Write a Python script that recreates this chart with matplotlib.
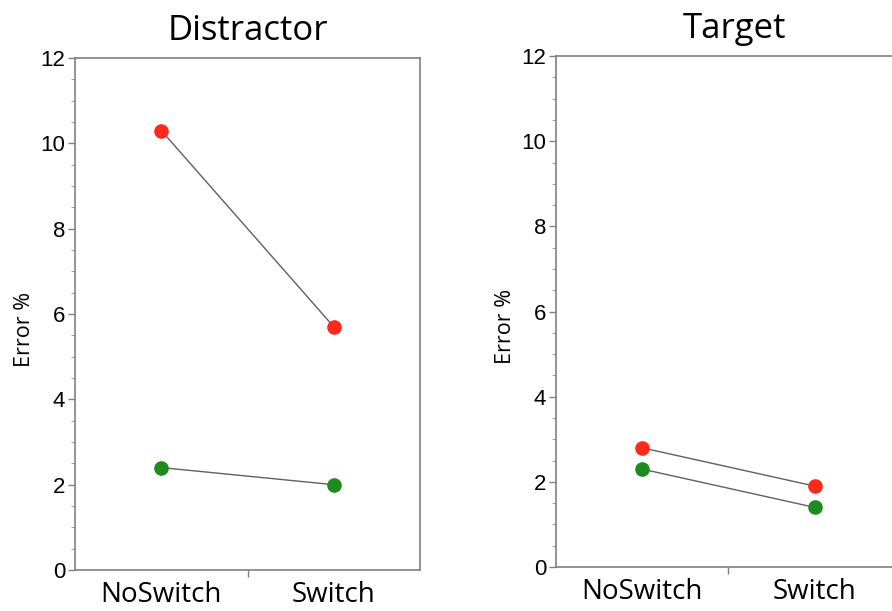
import numpy as np
import matplotlib.pyplot as plt
from matplotlib.ticker import MultipleLocator

conditions = ["NoSwitch", "Switch"]
panels = ["Distractor", "Target"]
red_vals = [[10.3, 5.7], [2.8, 1.9]]
green_vals = [[2.4, 2.0], [2.3, 1.4]]

RED = "#fa2a1c"
GREEN = "#1f8a1f"
SPINE = "#808080"

fig = plt.figure(figsize=(8.92, 6.11), dpi=100)
rects = [[0.0841, 0.0671, 0.3868, 0.838], [0.6233, 0.072, 0.40, 0.836]]

for i, name in enumerate(panels):
    ax = fig.add_axes(rects[i])
    x = np.arange(len(conditions))
    ax.plot(x, red_vals[i], "-", color="#606060", lw=1.0, zorder=1)
    ax.plot(x, green_vals[i], "-", color="#606060", lw=1.0, zorder=1)
    ax.plot(x, red_vals[i], "o", color=RED, ms=9.5, zorder=2)
    ax.plot(x, green_vals[i], "o", color=GREEN, ms=9.5, zorder=2)

    # right panel runs past the figure edge, keep the data at same spots
    if i == 0:
        ax.set_xlim(-0.5, 1.5)
    else:
        ax.set_xlim(-0.5, -0.5 + 2 * 0.40 / 0.3868)
    ax.set_ylim(0, 12)
    ax.set_xticks(x)
    ax.set_xticklabels(conditions, fontsize=20, family="Open Sans")
    ax.set_xticks([0.5], minor=True)
    ax.yaxis.set_major_locator(MultipleLocator(2))
    ax.yaxis.set_minor_locator(MultipleLocator(0.5))
    for lab in ax.get_yticklabels():
        lab.set_family("Liberation Sans")
        lab.set_fontsize(16)
    ax.tick_params(axis="y", which="major", length=5, width=1, color=SPINE, pad=2)
    ax.tick_params(axis="y", which="minor", length=3, width=0.8, color="#a0a0a0")
    ax.tick_params(axis="x", which="major", length=0, pad=8)
    ax.tick_params(axis="x", which="minor", length=5, width=1, color=SPINE)
    for s in ax.spines.values():
        s.set_color(SPINE)
        s.set_linewidth(1.2)
    ax.set_ylabel("Error %", fontsize=15.5, family="Open Sans")
    ax.yaxis.set_label_coords(-0.115 * 0.3868 / rects[i][2], 0.47)
    ax.set_title(name, fontsize=25, family="Open Sans", pad=13)

fig.savefig("out.png", dpi=100)
